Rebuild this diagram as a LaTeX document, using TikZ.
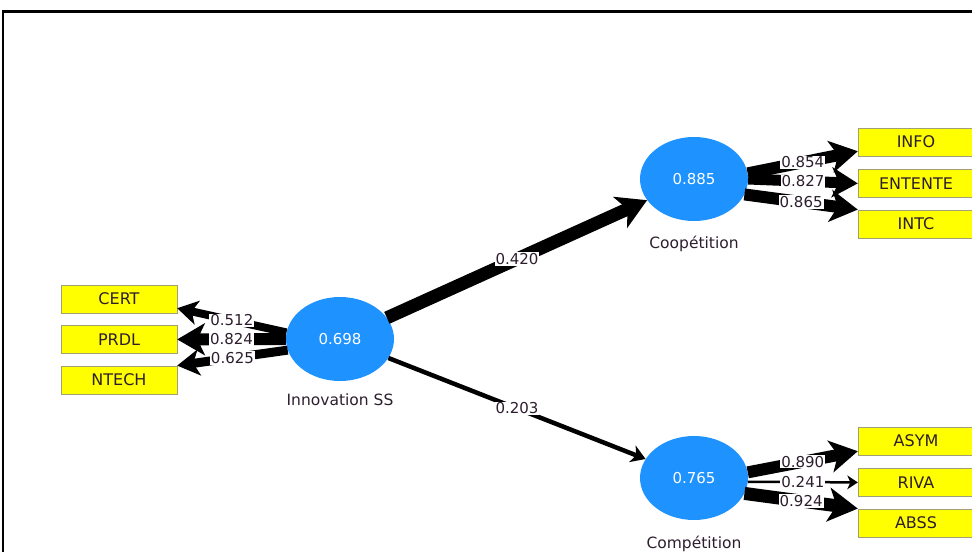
\documentclass[tikz,border=0pt]{standalone}
\usepackage{fontspec}
\setmainfont{DejaVu Sans}
\usetikzlibrary{arrows.meta,shapes.geometric,positioning}

\definecolor{lvblue}{RGB}{30,146,255}
\definecolor{mvyellow}{RGB}{255,255,0}
\definecolor{mvborder}{RGB}{160,160,120}
\definecolor{txtdark}{RGB}{45,30,45}

\tikzset{
  lv/.style={ellipse, fill=lvblue, minimum width=108pt, minimum height=84pt,
    inner sep=0pt, text=white, font=\fontsize{15}{18}\selectfont},
  lvname/.style={anchor=base, text=txtdark, font=\fontsize{15.5}{18}\selectfont},
  mv/.style={draw=mvborder, fill=mvyellow, minimum width=116pt, minimum height=28pt,
    inner sep=0pt, text=txtdark, font=\fontsize{16}{18}\selectfont},
  wlbl/.style={fill=white, inner sep=1pt, text=txtdark, font=\fontsize{15}{18}\selectfont}
}

\begin{document}
\begin{tikzpicture}[x=1pt,y=-1pt,>={Stealth[length=6pt 1.8,width=9pt 1.9,inset=2pt 0.45]}]
            \useasboundingbox (0,0) rectangle (972,552);
            \draw[line width=2.2pt] (3,552) |- (972,11.5);

            % latent variables
            \node[lv] (innov) at (340,339) {0.698};
            \node[lv] (coop)  at (694,179) {0.885};
            \node[lv] (comp)  at (694,478) {0.765};
            \node[lvname] (innovname) at ([yshift=-66pt]innov.center) {Innovation SS};
            \node[lvname] (coopname)  at ([yshift=-69pt]coop.center)  {Coopétition};
            \node[lvname] (compname)  at ([yshift=-70pt]comp.center)  {Compétition};

            % indicators
            \node[mv] (cert)  at (119,299) {CERT};
            \node[mv] (prdl)  [below=12pt of cert] {PRDL};
            \node[mv] (ntech) [below=12pt of prdl] {NTECH};
            \node[mv] (info)    at (916,142) {INFO};
            \node[mv] (entente) [below=13pt of info] {ENTENTE};
            \node[mv] (intc)    [below=12pt of entente] {INTC};
            \node[mv] (asym) at (916,441) {ASYM};
            \node[mv] (riva) [below=13pt of asym] {RIVA};
            \node[mv] (abss) [below=12pt of riva] {ABSS};

            \path[->]
                (innov) edge [line width=13pt]  node[wlbl] {0.420} (coop)
                        edge [line width=4.5pt] node[wlbl] {0.203} (comp)
                (innov.173) edge [line width=8pt]  node[wlbl] {0.512} ([yshift=5pt]cert.south east)
                (innov.west) edge [line width=12pt] node[wlbl] {0.824} (prdl.east)
                (innov.192) edge [line width=9pt]  node[wlbl] {0.625} (ntech.north east)
                (coop.6)    edge [line width=12pt] node[wlbl] {0.854} ([yshift=5pt]info.south west)
                (coop.east) edge [line width=11pt] node[wlbl] {0.827} (entente.west)
                (coop.-17)  edge [line width=12pt] node[wlbl] {0.865} (intc.north west)
                (comp.6)    edge [line width=12pt]  node[wlbl] {0.890} ([yshift=4pt]asym.south west)
                (comp.-4)   edge [line width=2.5pt] node[wlbl] {0.241} (riva.west)
                (comp.-17)  edge [line width=13pt]  node[wlbl] {0.924} (abss.north west);
        \end{tikzpicture}
\end{document}
